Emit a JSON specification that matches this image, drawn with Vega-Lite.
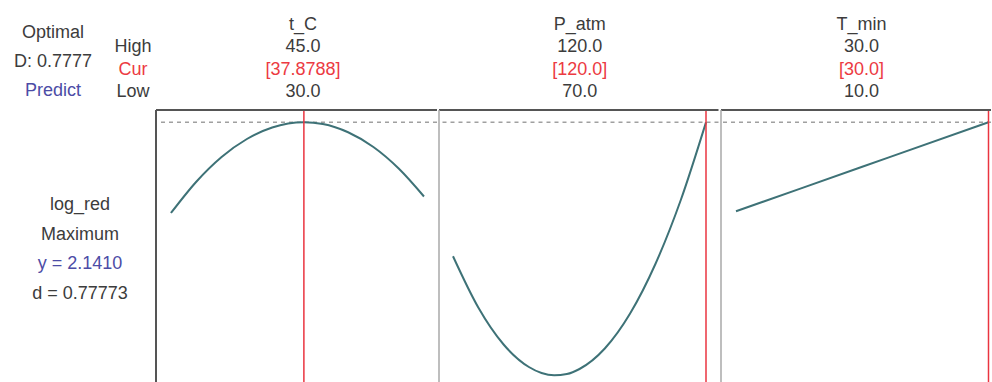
{
  "$schema": "https://vega.github.io/schema/vega-lite/v6.json",
  "padding": 0,
  "bounds": "full",
  "spacing": 0,
  "config": {
    "view": {"stroke": null},
    "text": {"font": "Liberation Sans", "fontSize": 18},
    "concat": {"spacing": 0}
  },
  "datasets": {
    "left_top": [
      {"label": "Optimal", "row": "r1", "kind": "normal"},
      {"label": "D: 0.7777", "row": "r2", "kind": "normal"},
      {"label": "Predict", "row": "r3", "kind": "link"}
    ],
    "limits": [
      {"label": "High", "row": "High", "kind": "normal"},
      {"label": "Cur", "row": "Cur", "kind": "current"},
      {"label": "Low", "row": "Low", "kind": "normal"}
    ],
    "response": [
      {"label": "log_red", "row": "r1", "kind": "normal"},
      {"label": "Maximum", "row": "r2", "kind": "normal"},
      {"label": "y = 2.1410", "row": "r3", "kind": "link"},
      {"label": "d = 0.77773", "row": "r4", "kind": "normal"}
    ],
    "headers": [
      {"factor": "t_C", "row": "Name", "label": "t_C", "kind": "normal"},
      {"factor": "t_C", "row": "High", "label": "45.0", "kind": "normal"},
      {"factor": "t_C", "row": "Cur", "label": "[37.8788]", "kind": "current"},
      {"factor": "t_C", "row": "Low", "label": "30.0", "kind": "normal"},
      {"factor": "P_atm", "row": "Name", "label": "P_atm", "kind": "normal"},
      {"factor": "P_atm", "row": "High", "label": "120.0", "kind": "normal"},
      {"factor": "P_atm", "row": "Cur", "label": "[120.0]", "kind": "current"},
      {"factor": "P_atm", "row": "Low", "label": "70.0", "kind": "normal"},
      {"factor": "T_min", "row": "Name", "label": "T_min", "kind": "normal"},
      {"factor": "T_min", "row": "High", "label": "30.0", "kind": "normal"},
      {"factor": "T_min", "row": "Cur", "label": "[30.0]", "kind": "current"},
      {"factor": "T_min", "row": "Low", "label": "10.0", "kind": "normal"}
    ],
    "settings": [
      {"factor": "t_C", "current": 37.8788, "yhat": 2.141, "low": 30},
      {"factor": "P_atm", "current": 120, "yhat": 2.141, "low": 70},
      {"factor": "T_min", "current": 30, "yhat": 2.141, "low": 10}
    ],
    "curves": [
      {"factor": "t_C", "x": 30, "y": 1.778},
      {"factor": "t_C", "x": 31.5, "y": 1.903},
      {"factor": "t_C", "x": 33, "y": 2.002},
      {"factor": "t_C", "x": 34.5, "y": 2.074},
      {"factor": "t_C", "x": 36, "y": 2.120},
      {"factor": "t_C", "x": 37.8788, "y": 2.141},
      {"factor": "t_C", "x": 39, "y": 2.134},
      {"factor": "t_C", "x": 40.5, "y": 2.101},
      {"factor": "t_C", "x": 42, "y": 2.042},
      {"factor": "t_C", "x": 43.5, "y": 1.956},
      {"factor": "t_C", "x": 45, "y": 1.844},
      {"factor": "P_atm", "x": 70, "y": 1.605},
      {"factor": "P_atm", "x": 75, "y": 1.400},
      {"factor": "P_atm", "x": 80, "y": 1.252},
      {"factor": "P_atm", "x": 85, "y": 1.162},
      {"factor": "P_atm", "x": 87.5, "y": 1.138},
      {"factor": "P_atm", "x": 90, "y": 1.129},
      {"factor": "P_atm", "x": 92.5, "y": 1.134},
      {"factor": "P_atm", "x": 95, "y": 1.154},
      {"factor": "P_atm", "x": 100, "y": 1.236},
      {"factor": "P_atm", "x": 105, "y": 1.376},
      {"factor": "P_atm", "x": 110, "y": 1.574},
      {"factor": "P_atm", "x": 115, "y": 1.829},
      {"factor": "P_atm", "x": 120, "y": 2.141},
      {"factor": "T_min", "x": 10, "y": 1.785},
      {"factor": "T_min", "x": 20, "y": 1.963},
      {"factor": "T_min", "x": 30, "y": 2.141}
    ]
  },
  "hconcat": [
    {
      "bounds": "full",
      "spacing": 80,
      "vconcat": [
        {
          "bounds": "flush",
          "spacing": 0,
          "hconcat": [
            {
              "width": 110,
              "height": 110,
              "data": {"name": "left_top"},
              "mark": {"type": "text", "dx": -2},
              "encoding": {
                "y": {"field": "row", "type": "ordinal", "axis": null, "scale": {"domain": ["r1", "r2", "r3"], "padding": 0.897, "align": 0.635}},
                "text": {"field": "label"},
                "color": {"field": "kind", "type": "nominal", "legend": null, "scale": {"domain": ["normal", "current", "link"], "range": ["#3c3c3c", "#ec3a42", "#4c4ca6"]}}
              }
            },
            {
              "width": 45,
              "height": 110,
              "data": {"name": "limits"},
              "mark": {"type": "text", "dx": 0.5},
              "encoding": {
                "y": {"field": "row", "type": "ordinal", "axis": null, "scale": {"domain": ["Name", "High", "Cur", "Low"], "padding": 0.963, "align": 0.581}},
                "text": {"field": "label"},
                "color": {"field": "kind", "type": "nominal", "legend": null, "scale": {"domain": ["normal", "current", "link"], "range": ["#3c3c3c", "#ec3a42", "#4c4ca6"]}}
              }
            }
          ]
        },
        {
          "width": 155,
          "height": 119,
          "data": {"name": "response"},
          "mark": {"type": "text", "dx": 2.5},
          "encoding": {
            "y": {"field": "row", "type": "ordinal", "axis": null, "scale": {"domain": ["r1", "r2", "r3", "r4"], "padding": 0.5}},
            "text": {"field": "label"},
            "color": {"field": "kind", "type": "nominal", "legend": null, "scale": {"domain": ["normal", "current", "link"], "range": ["#3c3c3c", "#ec3a42", "#4c4ca6"]}}
          }
        }
      ]
    },
    {
      "bounds": "flush",
      "spacing": 0,
      "vconcat": [
        {
          "width": 281,
          "height": 110,
          "data": {"name": "headers"},
          "transform": [{"filter": "datum.factor == 't_C'"}],
          "mark": {"type": "text", "dx": 6.5},
          "encoding": {
            "y": {"field": "row", "type": "ordinal", "axis": null, "scale": {"domain": ["Name", "High", "Cur", "Low"], "padding": 0.963, "align": 0.581}},
            "text": {"field": "label"},
            "color": {"field": "kind", "type": "nominal", "legend": null, "scale": {"domain": ["normal", "current", "link"], "range": ["#3c3c3c", "#ec3a42", "#4c4ca6"]}}
          }
        },
        {
          "width": 281,
          "height": 272,
          "data": {"name": "settings"},
          "transform": [{"filter": "datum.factor == 't_C'"}],
          "encoding": {
            "x": {"type": "quantitative", "axis": null, "scale": {"domain": [29.111, 45.771], "nice": false, "zero": false}},
            "y": {"type": "quantitative", "axis": null, "scale": {"domain": [1.102, 2.19], "nice": false, "zero": false}}
          },
          "layer": [
            {
              "mark": {"type": "rule", "color": "#a0a0a0", "strokeDash": [4, 4], "strokeWidth": 1.5},
              "encoding": {"y": {"field": "yhat", "type": "quantitative"}}
            },
            {
              "data": {"name": "curves"},
              "transform": [{"filter": "datum.factor == 't_C'"}],
              "mark": {"type": "line", "color": "#3e7277", "strokeWidth": 2, "interpolate": "monotone"},
              "encoding": {"x": {"field": "x", "type": "quantitative"}, "y": {"field": "y", "type": "quantitative"}}
            },
            {
              "mark": {"type": "rule", "color": "#ea3440", "strokeWidth": 1.5},
              "encoding": {"x": {"field": "current", "type": "quantitative"}}
            },
            {
              "mark": {"type": "rule", "color": "#555555", "strokeWidth": 2},
              "encoding": {"y": {"datum": 2.19, "type": "quantitative"}}
            },
            {
              "mark": {"type": "rule", "color": "#555555", "strokeWidth": 2},
              "encoding": {"x": {"datum": 29.111, "type": "quantitative"}}
            }
          ]
        }
      ]
    },
    {
      "bounds": "flush",
      "spacing": 0,
      "vconcat": [
        {
          "width": 279.5,
          "height": 110,
          "data": {"name": "headers"},
          "transform": [{"filter": "datum.factor == 'P_atm'"}],
          "mark": {"type": "text", "dx": 1},
          "encoding": {
            "y": {"field": "row", "type": "ordinal", "axis": null, "scale": {"domain": ["Name", "High", "Cur", "Low"], "padding": 0.963, "align": 0.581}},
            "text": {"field": "label"},
            "color": {"field": "kind", "type": "nominal", "legend": null, "scale": {"domain": ["normal", "current", "link"], "range": ["#3c3c3c", "#ec3a42", "#4c4ca6"]}}
          }
        },
        {
          "width": 279.5,
          "height": 272,
          "data": {"name": "settings"},
          "transform": [{"filter": "datum.factor == 'P_atm'"}],
          "encoding": {
            "x": {"type": "quantitative", "axis": null, "scale": {"domain": [67.233, 122.47], "nice": false, "zero": false}},
            "y": {"type": "quantitative", "axis": null, "scale": {"domain": [1.102, 2.19], "nice": false, "zero": false}}
          },
          "layer": [
            {
              "mark": {"type": "rule", "color": "#a0a0a0", "strokeDash": [4, 4], "strokeWidth": 1.5},
              "encoding": {"y": {"field": "yhat", "type": "quantitative"}}
            },
            {
              "data": {"name": "curves"},
              "transform": [{"filter": "datum.factor == 'P_atm'"}],
              "mark": {"type": "line", "color": "#3e7277", "strokeWidth": 2, "interpolate": "monotone"},
              "encoding": {"x": {"field": "x", "type": "quantitative"}, "y": {"field": "y", "type": "quantitative"}}
            },
            {
              "mark": {"type": "rule", "color": "#ea3440", "strokeWidth": 1.5},
              "encoding": {"x": {"field": "current", "type": "quantitative"}}
            },
            {
              "mark": {"type": "rule", "color": "#555555", "strokeWidth": 2},
              "encoding": {"y": {"datum": 2.19, "type": "quantitative"}}
            },
            {
              "mark": {"type": "rule", "color": "#a9a9a9", "strokeWidth": 1.5},
              "encoding": {"x": {"datum": 67.233, "type": "quantitative"}}
            }
          ]
        }
      ]
    },
    {
      "bounds": "flush",
      "spacing": 0,
      "vconcat": [
        {
          "width": 270,
          "height": 110,
          "data": {"name": "headers"},
          "transform": [{"filter": "datum.factor == 'T_min'"}],
          "mark": {"type": "text", "dx": 5.5},
          "encoding": {
            "y": {"field": "row", "type": "ordinal", "axis": null, "scale": {"domain": ["Name", "High", "Cur", "Low"], "padding": 0.963, "align": 0.581}},
            "text": {"field": "label"},
            "color": {"field": "kind", "type": "nominal", "legend": null, "scale": {"domain": ["normal", "current", "link"], "range": ["#3c3c3c", "#ec3a42", "#4c4ca6"]}}
          }
        },
        {
          "width": 270,
          "height": 272,
          "data": {"name": "settings"},
          "transform": [{"filter": "datum.factor == 'T_min'"}],
          "encoding": {
            "x": {"type": "quantitative", "axis": null, "scale": {"domain": [8.812, 30.198], "nice": false, "zero": false}},
            "y": {"type": "quantitative", "axis": null, "scale": {"domain": [1.102, 2.19], "nice": false, "zero": false}}
          },
          "layer": [
            {
              "mark": {"type": "rule", "color": "#a0a0a0", "strokeDash": [4, 4], "strokeWidth": 1.5},
              "encoding": {"y": {"field": "yhat", "type": "quantitative"}}
            },
            {
              "data": {"name": "curves"},
              "transform": [{"filter": "datum.factor == 'T_min'"}],
              "mark": {"type": "line", "color": "#3e7277", "strokeWidth": 2, "interpolate": "monotone"},
              "encoding": {"x": {"field": "x", "type": "quantitative"}, "y": {"field": "y", "type": "quantitative"}}
            },
            {
              "mark": {"type": "rule", "color": "#ea3440", "strokeWidth": 1.5},
              "encoding": {"x": {"field": "current", "type": "quantitative"}}
            },
            {
              "mark": {"type": "rule", "color": "#555555", "strokeWidth": 2},
              "encoding": {"y": {"datum": 2.19, "type": "quantitative"}}
            },
            {
              "mark": {"type": "rule", "color": "#a9a9a9", "strokeWidth": 1.5},
              "encoding": {"x": {"datum": 8.812, "type": "quantitative"}}
            }
          ]
        }
      ]
    }
  ]
}
